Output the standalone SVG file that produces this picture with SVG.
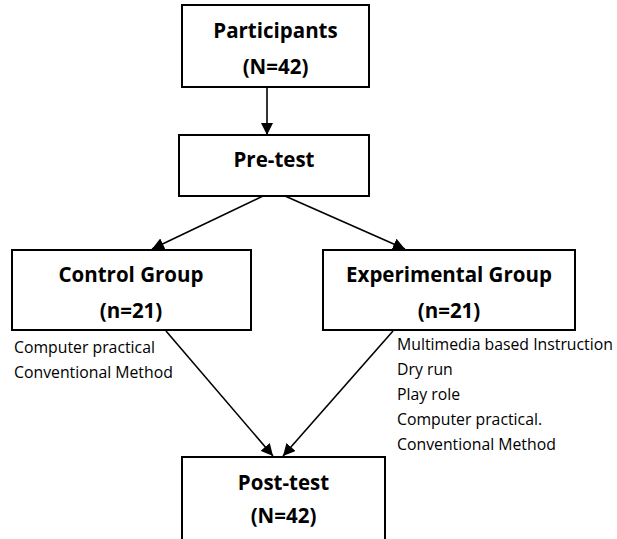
<svg xmlns="http://www.w3.org/2000/svg" width="617" height="539" viewBox="0 0 617 539">
  <defs>
    <marker id="arrow" viewBox="0 0 12 12" refX="12" refY="6" markerWidth="12" markerHeight="12" markerUnits="userSpaceOnUse" orient="auto">
      <path d="M0,0 L12,6 L0,12 Z" fill="#000"/>
    </marker>
    <style>
      .box { fill: #fff; stroke: #000; stroke-width: 2; }
      .title { font-family: "Open Sans", "Liberation Sans", sans-serif; font-weight: bold; font-size: 20.5px; fill: #000; text-anchor: middle; }
      .note { font-family: "Open Sans", "Liberation Sans", sans-serif; font-size: 15.8px; fill: #000; }
      .conn { stroke: #000; stroke-width: 1.6; fill: none; marker-end: url(#arrow); }
    </style>
  </defs>
  <rect width="617" height="539" fill="#fff"/>

  <g id="connectors">
    <line class="conn" x1="267" y1="88" x2="267" y2="135"/>
    <line class="conn" x1="263" y1="196" x2="152" y2="249"/>
    <line class="conn" x1="285" y1="196" x2="405" y2="249"/>
    <line class="conn" x1="166" y1="331" x2="273" y2="456"/>
    <line class="conn" x1="393" y1="331" x2="283" y2="456"/>
  </g>

  <g id="participants">
    <rect class="box" x="182" y="5" width="187" height="82"/>
    <text class="title" x="275.5" y="38">Participants</text>
    <text class="title" x="275.5" y="74">(N=42)</text>
  </g>

  <g id="pretest">
    <rect class="box" x="179" y="135" width="190" height="61"/>
    <text class="title" x="274" y="167">Pre-test</text>
  </g>

  <g id="control">
    <rect class="box" x="12" y="250" width="239" height="80"/>
    <text class="title" x="131" y="282">Control Group</text>
    <text class="title" x="131" y="318">(n=21)</text>
  </g>

  <g id="control-notes">
    <text class="note" x="14" y="353">Computer practical</text>
    <text class="note" x="14" y="378">Conventional Method</text>
  </g>

  <g id="experimental">
    <rect class="box" x="323" y="250" width="252" height="80"/>
    <text class="title" x="449" y="282">Experimental Group</text>
    <text class="title" x="449" y="318">(n=21)</text>
  </g>

  <g id="experimental-notes">
    <text class="note" x="397" y="350">Multimedia based Instruction</text>
    <text class="note" x="397" y="375">Dry run</text>
    <text class="note" x="397" y="400">Play role</text>
    <text class="note" x="397" y="425">Computer practical.</text>
    <text class="note" x="397" y="450">Conventional Method</text>
  </g>

  <g id="posttest">
    <rect class="box" x="182" y="457" width="203" height="90"/>
    <text class="title" x="283.5" y="490">Post-test</text>
    <text class="title" x="283.5" y="523">(N=42)</text>
  </g>
</svg>
